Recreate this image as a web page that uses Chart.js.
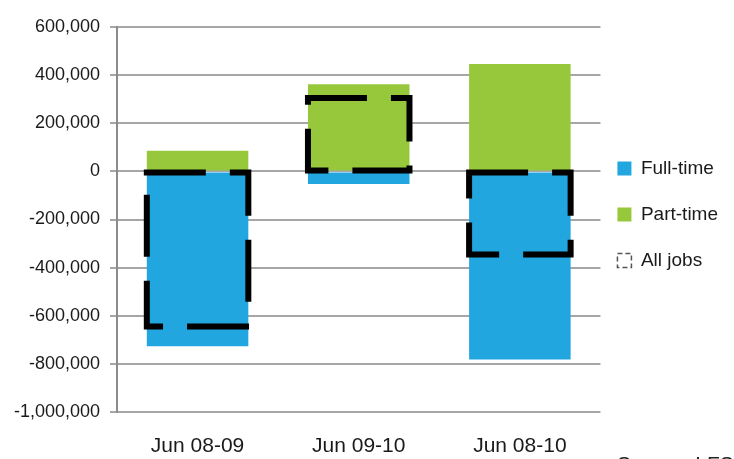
<!DOCTYPE html>
<html>
<head>
<meta charset="utf-8">
<script src="https://cdn.jsdelivr.net/npm/chart.js@4.4.1/dist/chart.umd.min.js"></script>
<style>
    html, body { margin: 0; padding: 0; background: #fff; overflow: hidden; }
    #wrap { position: relative; width: 734px; height: 459px; }
    #source { position: absolute; left: 617px; top: 452px; font: 21px 'Liberation Sans', Arial, sans-serif; color: #222; white-space: nowrap; }
</style>
</head>
<body>
<div id="wrap">
    <canvas id="jobsChart" width="734" height="459"></canvas>
    <div id="source">Source: LFS</div>
</div>
<script>
// Data
const periods = ['Jun 08-09', 'Jun 09-10', 'Jun 08-10'];
const fullTime = [-727000, -52000, -782000];
const partTime = [86000, 362000, 446000];
const allJobs = [-645000, 305000, -345000];
const yTicks = [600000, 400000, 200000, 0, -200000, -400000, -600000, -800000, -1000000];

const FONT = "'Liberation Sans', Arial, sans-serif";

// Dashed outline for the "All jobs" series
const dashedBoxes = {
    id: 'dashedBoxes',
    afterDatasetsDraw: function(chart) {
        const meta = chart.getDatasetMeta(2);
        if (meta.hidden) return;
        const ctx = chart.ctx;
        ctx.save();
        ctx.strokeStyle = '#000';
        ctx.lineWidth = 6;
        ctx.lineCap = 'square';
        ctx.lineJoin = 'miter';
        ctx.setLineDash([56, 30]);
        meta.data.forEach(function(bar) {
            const p = bar.getProps(['x', 'y', 'base', 'width'], true);
            const left = p.x - p.width / 2;
            const right = p.x + p.width / 2;
            const top = Math.min(p.y, p.base);
            const bottom = Math.max(p.y, p.base);
            ctx.beginPath();
            ctx.moveTo(left, top);
            ctx.lineTo(right, top);
            ctx.lineTo(right, bottom);
            ctx.lineTo(left, bottom);
            ctx.closePath();
            ctx.stroke();
        });
        ctx.restore();
    }
};

const ctx = document.getElementById('jobsChart').getContext('2d');
const jobsChart = new Chart(ctx, {
    type: 'bar',
    data: {
        labels: periods,
        datasets: [{
            label: 'Full-time',
            data: fullTime,
            backgroundColor: '#22a6df',
            stack: 'parts'
        }, {
            label: 'Part-time',
            data: partTime,
            backgroundColor: '#97c83c',
            stack: 'parts'
        }, {
            label: 'All jobs',
            data: allJobs,
            backgroundColor: 'rgba(0, 0, 0, 0)',
            borderWidth: 0,
            stack: 'all',
            grouped: false
        }]
    },
    options: {
        responsive: false,
        animation: false,
        categoryPercentage: 1,
        barPercentage: 0.63,
        layout: {
            padding: { top: 27, right: 6, bottom: 0, left: 0 }
        },
        plugins: {
            legend: {
                position: 'right',
                fullSize: false,
                labels: {
                    boxWidth: 14,
                    boxHeight: 14,
                    padding: 17,
                    color: '#1a1a1a',
                    font: { family: FONT, size: 19, lineHeight: '29px' },
                    generateLabels: function(chart) {
                        const items = Chart.defaults.plugins.legend.labels.generateLabels(chart);
                        items.forEach(function(item) {
                            item.text = [item.text];
                            if (item.datasetIndex === 2) {
                                item.fillStyle = 'rgba(0, 0, 0, 0)';
                                item.strokeStyle = '#555';
                                item.lineWidth = 1.5;
                                item.lineDash = [5, 3];
                            } else {
                                item.lineWidth = 0;
                            }
                        });
                        return items;
                    }
                }
            },
            tooltip: { enabled: false }
        },
        scales: {
            x: {
                grid: { display: false, drawTicks: false },
                border: { display: false },
                afterFit: function(scale) {
                    scale.height = 47;
                },
                ticks: {
                    color: '#1a1a1a',
                    padding: 22,
                    font: { family: FONT, size: 21 }
                }
            },
            y: {
                stacked: true,
                min: -1000000,
                max: 600000,
                afterBuildTicks: function(scale) {
                    scale.ticks = yTicks.map(function(v) { return { value: v }; });
                },
                afterFit: function(scale) {
                    scale.width = 117;
                },
                ticks: {
                    color: '#1a1a1a',
                    padding: 10,
                    font: { family: FONT, size: 18 },
                    callback: function(value) {
                        return value.toLocaleString('en-US');
                    }
                },
                grid: {
                    color: '#a6a6a6',
                    lineWidth: 2,
                    tickLength: 7,
                    drawTicks: true
                },
                border: { display: true, color: '#8c8c8c', width: 2 }
            }
        }
    },
    plugins: [dashedBoxes]
});
</script>
</body>
</html>
